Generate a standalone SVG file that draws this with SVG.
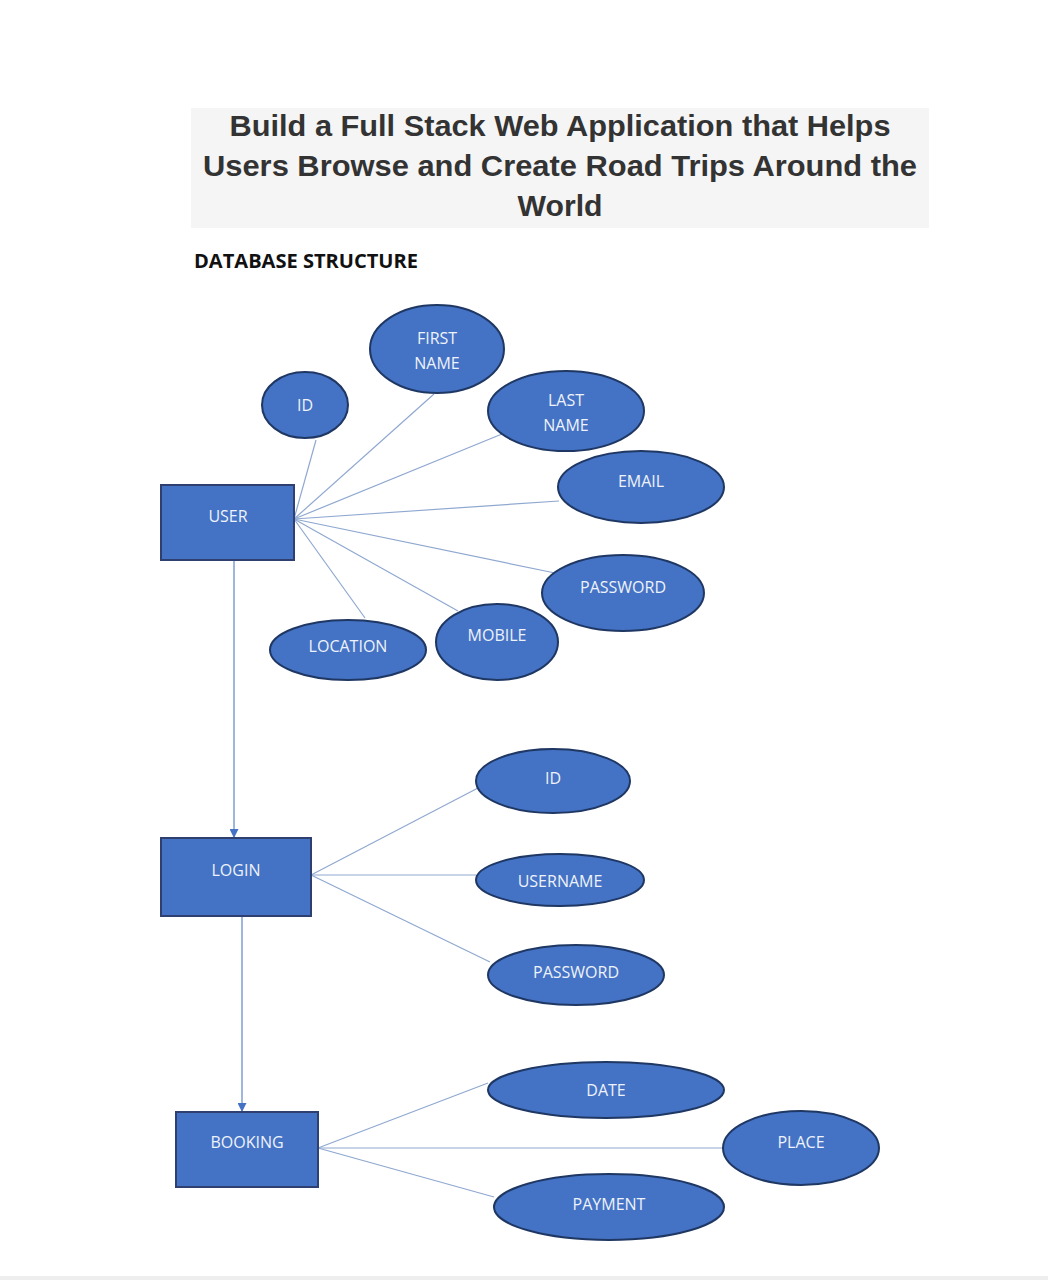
<svg xmlns="http://www.w3.org/2000/svg" width="1048" height="1280" viewBox="0 0 1048 1280">
<defs>
<style>
.ent{fill:#4472C4;stroke:#2F3F6F;stroke-width:2}
.att{fill:#4472C4;stroke:#1F3763;stroke-width:2}
.lbl{font-family:"Open Sans","Liberation Sans",sans-serif;font-size:16px;fill:#EEF2FA;text-anchor:middle;dominant-baseline:central}
.con{stroke:#8FA8D0;stroke-width:1.2;fill:none}
.arr{stroke:#6C8FCB;stroke-width:1.3;fill:none;marker-end:url(#ah)}
.title{font-family:"Liberation Sans",Arial,sans-serif;font-weight:bold;font-size:29px;fill:#333;text-anchor:middle}
</style>
<marker id="ah" viewBox="0 0 10 10" refX="9" refY="5" markerWidth="10" markerHeight="9" markerUnits="userSpaceOnUse" orient="auto">
<path d="M0,0 L10,5 L0,10 z" fill="#4472C4"/>
</marker>
</defs>
<rect width="1048" height="1280" fill="#fff"/>
<rect x="0" y="1276" width="1048" height="4" fill="#eeeeee"/>
<g id="title">
<rect x="191" y="108" width="738" height="120" fill="#f5f5f5"/>
<text class="title" x="560" y="136" textLength="661" lengthAdjust="spacingAndGlyphs">Build a Full Stack Web Application that Helps</text>
<text class="title" x="560" y="176" textLength="714" lengthAdjust="spacingAndGlyphs">Users Browse and Create Road Trips Around the</text>
<text class="title" x="560" y="216" textLength="85" lengthAdjust="spacingAndGlyphs">World</text>
</g>
<text id="subtitle" x="194" y="268" font-family="'Open Sans','Liberation Sans',sans-serif" font-weight="bold" font-size="20" fill="#111" textLength="224" lengthAdjust="spacingAndGlyphs">DATABASE STRUCTURE</text>
<g id="connectors">
<line class="con" x1="294" y1="519" x2="316" y2="440"/>
<line class="con" x1="294" y1="519" x2="434" y2="394"/>
<line class="con" x1="294" y1="519" x2="502" y2="434"/>
<line class="con" x1="294" y1="519" x2="559" y2="501"/>
<line class="con" x1="294" y1="519" x2="555" y2="573"/>
<line class="con" x1="294" y1="519" x2="458" y2="611"/>
<line class="con" x1="294" y1="519" x2="365" y2="618"/>
<line class="arr" x1="234" y1="560" x2="234" y2="837"/>
<line class="con" x1="311" y1="875" x2="478" y2="788"/>
<line class="con" x1="311" y1="875" x2="476" y2="875"/>
<line class="con" x1="311" y1="875" x2="490" y2="962"/>
<line class="arr" x1="242" y1="916" x2="242" y2="1111"/>
<line class="con" x1="318" y1="1148" x2="488" y2="1083"/>
<line class="con" x1="318" y1="1148" x2="724" y2="1148"/>
<line class="con" x1="318" y1="1148" x2="494" y2="1197"/>
</g>
<g id="user"><rect class="ent" x="161" y="485" width="133" height="75"/><text class="lbl" x="228" y="516">USER</text></g>
<g id="user-id"><ellipse class="att" cx="305" cy="405" rx="43" ry="33"/><text class="lbl" x="305" y="405">ID</text></g>
<g id="first-name"><ellipse class="att" cx="437" cy="349" rx="67" ry="44"/><text class="lbl" x="437" y="338">FIRST</text><text class="lbl" x="437" y="363">NAME</text></g>
<g id="last-name"><ellipse class="att" cx="566" cy="411" rx="78" ry="40"/><text class="lbl" x="566" y="400">LAST</text><text class="lbl" x="566" y="425">NAME</text></g>
<g id="email"><ellipse class="att" cx="641" cy="487" rx="83" ry="36"/><text class="lbl" x="641" y="481">EMAIL</text></g>
<g id="password"><ellipse class="att" cx="623" cy="593" rx="81" ry="38"/><text class="lbl" x="623" y="587">PASSWORD</text></g>
<g id="mobile"><ellipse class="att" cx="497" cy="642" rx="61" ry="38"/><text class="lbl" x="497" y="635">MOBILE</text></g>
<g id="location"><ellipse class="att" cx="348" cy="650" rx="78" ry="30"/><text class="lbl" x="348" y="646">LOCATION</text></g>
<g id="login"><rect class="ent" x="161" y="838" width="150" height="78"/><text class="lbl" x="236" y="870">LOGIN</text></g>
<g id="login-id"><ellipse class="att" cx="553" cy="781" rx="77" ry="32"/><text class="lbl" x="553" y="778">ID</text></g>
<g id="username"><ellipse class="att" cx="560" cy="880" rx="84" ry="26"/><text class="lbl" x="560" y="881">USERNAME</text></g>
<g id="login-password"><ellipse class="att" cx="576" cy="975" rx="88" ry="30"/><text class="lbl" x="576" y="972">PASSWORD</text></g>
<g id="booking"><rect class="ent" x="176" y="1112" width="142" height="75"/><text class="lbl" x="247" y="1142">BOOKING</text></g>
<g id="date"><ellipse class="att" cx="606" cy="1090" rx="118" ry="28"/><text class="lbl" x="606" y="1090">DATE</text></g>
<g id="place"><ellipse class="att" cx="801" cy="1148" rx="78" ry="37"/><text class="lbl" x="801" y="1142">PLACE</text></g>
<g id="payment"><ellipse class="att" cx="609" cy="1207" rx="115" ry="33"/><text class="lbl" x="609" y="1204">PAYMENT</text></g>
</svg>
